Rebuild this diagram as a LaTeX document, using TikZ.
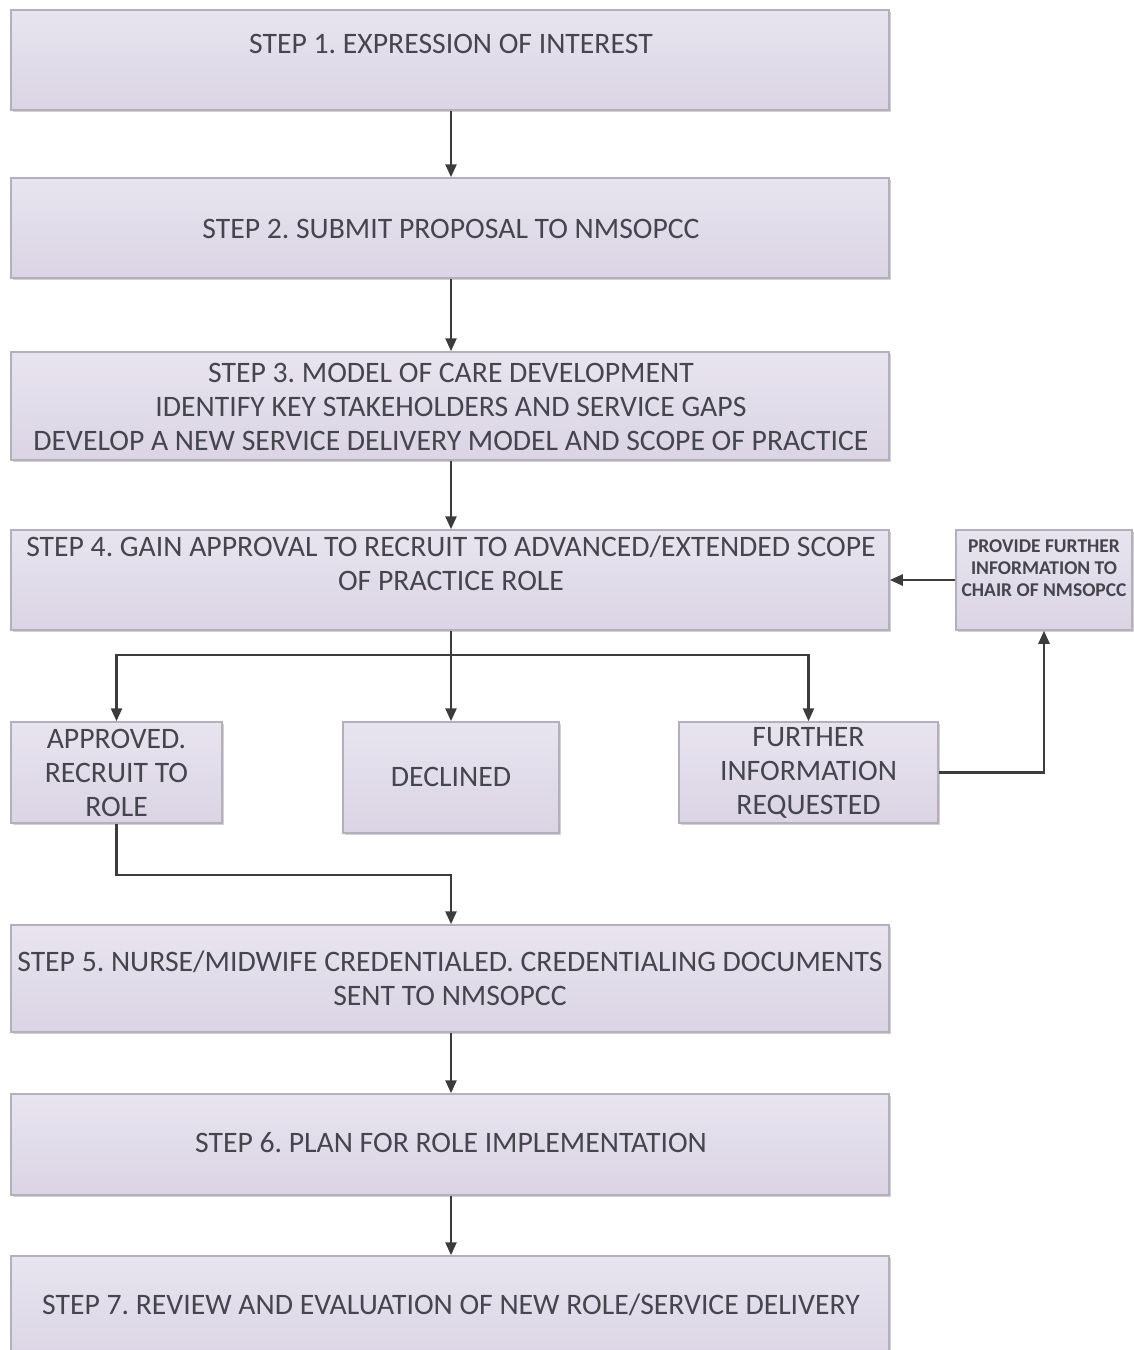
\documentclass[tikz,border=0pt]{standalone}
\usepackage{fontspec}
\setmainfont{Carlito}
\usetikzlibrary{arrows.meta,shadows}
\definecolor{boxtop}{HTML}{E8E4EF}
\definecolor{boxbot}{HTML}{DAD4E4}
\definecolor{boxline}{HTML}{B3AFBB}
\definecolor{txt}{HTML}{45454D}
\definecolor{arr}{HTML}{3C3C3C}
\tikzset{
  box/.style={rectangle, draw=boxline, line width=1.5pt, top color=boxtop, bottom color=boxbot,
    inner sep=0pt, drop shadow={shadow xshift=1.5pt, shadow yshift=-1.5pt, fill=black, opacity=0.18}},
  lbl/.style={text=txt, font=\fontsize{29.7}{34}\selectfont\frenchspacing, align=center, inner sep=0pt},
  slbl/.style={text=txt, font=\fontsize{19.5}{22}\selectfont\bfseries\frenchspacing, align=center, inner sep=0pt},
  conn/.style={draw=arr, line width=2.5pt, -{Triangle[length=13pt,width=11pt]}},
  line/.style={draw=arr, line width=2.5pt}
}
\begin{document}
\begin{tikzpicture}[x=1pt,y=-1pt]
\useasboundingbox (0,0) rectangle (1134,1350);
\clip (0,0) rectangle (1134,1350);
% boxes
\node[box, minimum width=878pt, minimum height=100pt] (s1) at (450,60) {};
\node[box, minimum width=878pt, minimum height=100pt] (s2) at (450,228) {};
\node[box, minimum width=878pt, minimum height=108pt] (s3) at (450,406) {};
\node[box, minimum width=878pt, minimum height=100pt] (s4) at (450,580) {};
\node[box, minimum width=176pt, minimum height=100pt] (pv) at (1044,580) {};
\node[box, minimum width=211pt, minimum height=101pt] (ap) at (116.5,772.5) {};
\node[box, minimum width=216pt, minimum height=111pt] (dc) at (451,777.5) {};
\node[box, minimum width=259pt, minimum height=101pt] (fr) at (808.5,772.5) {};
\node[box, minimum width=878pt, minimum height=107pt] (s5) at (450,978.5) {};
\node[box, minimum width=878pt, minimum height=101pt] (s6) at (450,1144.5) {};
\node[box, minimum width=878pt, minimum height=110pt] (s7) at (450,1311) {};
% labels
\node[lbl] (t1) at (451,44) {STEP 1. EXPRESSION OF INTEREST};
\node[lbl] (t2) at (451,229) {STEP 2. SUBMIT PROPOSAL TO NMSOPCC};
\node[lbl] (t3) at (451,406.5) {STEP 3. MODEL OF CARE DEVELOPMENT\\IDENTIFY KEY STAKEHOLDERS AND SERVICE GAPS\\DEVELOP A NEW SERVICE DELIVERY MODEL AND SCOPE OF PRACTICE};
\node[lbl] (t4) at (451,563) {STEP 4. GAIN APPROVAL TO RECRUIT TO ADVANCED/EXTENDED SCOPE\\OF PRACTICE ROLE};
\node[slbl] (tp) at (1044,568) {PROVIDE FURTHER\\INFORMATION TO\\CHAIR OF NMSOPCC};
\node[lbl] (ta) at (116.5,772.5) {APPROVED.\\RECRUIT TO\\ROLE};
\node[lbl] (td) at (451,777) {DECLINED};
\node[lbl] (tf) at (808.5,772.5) {FURTHER\\INFORMATION\\REQUESTED};
\node[lbl] (t5) at (450,978) {STEP 5. NURSE/MIDWIFE CREDENTIALED. CREDENTIALING DOCUMENTS\\SENT TO NMSOPCC};
\node[lbl] (t6) at (451,1143) {STEP 6. PLAN FOR ROLE IMPLEMENTATION};
\node[lbl] (t7) at (451,1305) {STEP 7. REVIEW AND EVALUATION OF NEW ROLE/SERVICE DELIVERY};
% junctions
\coordinate (j) at (451,655);
\coordinate (k) at (451,875);
% connectors
\draw[conn] (s1.south -| j) -- (s2.north -| j);
\draw[conn] (s2.south -| j) -- (s3.north -| j);
\draw[conn] (s3.south -| j) -- (s4.north -| j);
\draw[line] (s4.south -| j) -- (j);
\draw[conn] (j) -| (ap.north);
\draw[conn] (j) -- (dc.north);
\draw[conn] (j) -| (fr.north);
\draw[conn] (fr.east) -| (pv.south);
\draw[conn] (pv.west) -- (s4.east);
\draw[conn] (ap.south) |- (k) -- (s5.north -| k);
\draw[conn] (s5.south -| j) -- (s6.north -| j);
\draw[conn] (s6.south -| j) -- (s7.north -| j);
\end{tikzpicture}
\end{document}
